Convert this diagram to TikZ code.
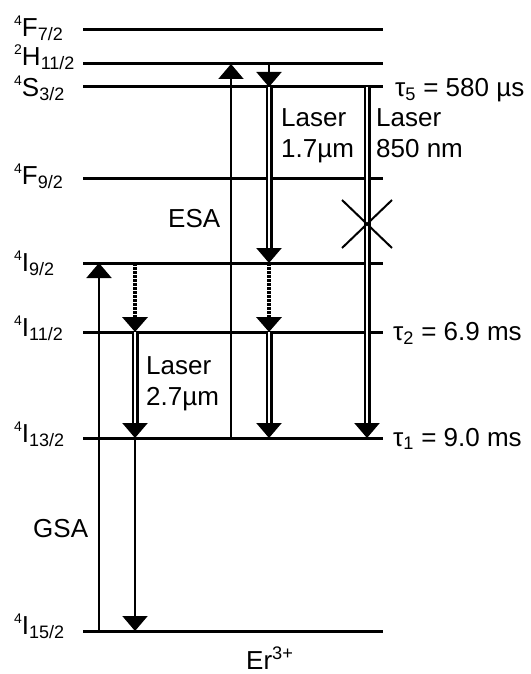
\documentclass[tikz,border=0pt]{standalone}
\usepackage{fontspec}
\setmainfont{Liberation Sans}
\usetikzlibrary{arrows.meta}

% term symbol: multiplicity, letter, J
\newcommand\term[3]{\raisebox{11pt}{\fontsize{14}{14}\selectfont #1}#2\raisebox{-4pt}{\fontsize{18}{18}\selectfont #3}}

\tikzset{
    level/.style={line width=3pt},
    pump/.style={line width=2pt, -{Triangle[width=25pt, length=15pt]}},
    laser/.style={double, line width=2.5pt, double distance=2pt, -{Triangle[width=25pt, length=15pt]}},
    decay/.style={line width=4pt, dash pattern=on 2.5pt off 1.5pt, -{Triangle[width=25pt, length=15pt]}},
    lbl/.style={anchor=base west, inner sep=0pt}
}

\begin{document}
\begin{tikzpicture}[x=1pt, y=-1pt, font=\fontsize{26}{31}\selectfont]

    \useasboundingbox (0,0) rectangle (530,674);

    % Energy levels
    \coordinate (F72) at (83,30);
    \coordinate (H112) at (83,64);
    \coordinate (S32) at (83,87);
    \coordinate (F92) at (83,178);
    \coordinate (I92) at (83,263);
    \coordinate (I112) at (83,332);
    \coordinate (I132) at (83,438);
    \coordinate (I152) at (83,631);
    \foreach \lev in {F72,H112,S32,F92,I92,I112,I132,I152}
        \draw[level] (\lev) -- ++(300,0);

    % Level names
    \node[lbl] (nF72) at (14,37) {\term{4}{F}{7/2}};
    \node[lbl] (nH112) at (14,66) {\term{2}{H}{11/2}};
    \node[lbl] (nS32) at (14,97) {\term{4}{S}{3/2}};
    \node[lbl] (nF92) at (14,184) {\term{4}{F}{9/2}};
    \node[lbl] (nI92) at (14,271) {\term{4}{I}{9/2}};
    \node[lbl] (nI112) at (14,336) {\term{4}{I}{11/2}};
    \node[lbl] (nI132) at (14,442) {\term{4}{I}{13/2}};
    \node[lbl] (nI152) at (14,634) {\term{4}{I}{15/2}};

    % Lifetimes
    \node[lbl] (tau5) at (395,97) {τ\textsubscript{5} = 580 µs};
    \node[lbl] (tau2) at (393,340) {τ\textsubscript{2} = 6.9 ms};
    \node[lbl] (tau1) at (393,446) {τ\textsubscript{1} = 9.0 ms};

    % Transition columns
    \coordinate (gsa) at (99,0);
    \coordinate (lasA) at (135,0);
    \coordinate (esa) at (231,0);
    \coordinate (lasB) at (269,0);
    \coordinate (lasC) at (367,0);

    % Pumping
    \draw[pump] (I152 -| gsa) -- (I92 -| gsa);
    \draw[pump] (I132 -| esa) -- (H112 -| esa);

    % 2.7 um laser
    \draw[decay] (I92 -| lasA) -- (I112 -| lasA);
    \draw[laser] (I112 -| lasA) -- (I132 -| lasA);
    \draw[pump] (I132 -| lasA) -- (I152 -| lasA);

    % 1.7 um laser
    \draw[pump] (H112 -| lasB) -- (S32 -| lasB);
    \draw[laser] (S32 -| lasB) -- (I92 -| lasB);
    \draw[decay] (I92 -| lasB) -- (I112 -| lasB);
    \draw[laser] (I112 -| lasB) -- (I132 -| lasB);

    % 850 nm laser, blocked
    \draw[laser] (S32 -| lasC) -- (I132 -| lasC);
    \coordinate (block) at (367,224);
    \draw[line width=2pt] (block) ++(-25,-24) -- ++(50,48);
    \draw[line width=2pt] (block) ++(-25,24) -- ++(50,-48);

    % Transition labels
    \node[lbl] (lGSA) at (33,537) {GSA};
    \node[lbl] (lESA) at (168,227) {ESA};
    \node[lbl, anchor=north west, align=left] (l27) at (146,356) {Laser\\2.7µm};
    \node[lbl, anchor=north west, align=left] (l17) at (281,108) {Laser\\1.7µm};
    \node[lbl, anchor=north west, align=left] (l850) at (376,108) {Laser\\850 nm};
    \node[lbl] (ion) at (246,669) {Er\textsuperscript{3+}};

\end{tikzpicture}
\end{document}
